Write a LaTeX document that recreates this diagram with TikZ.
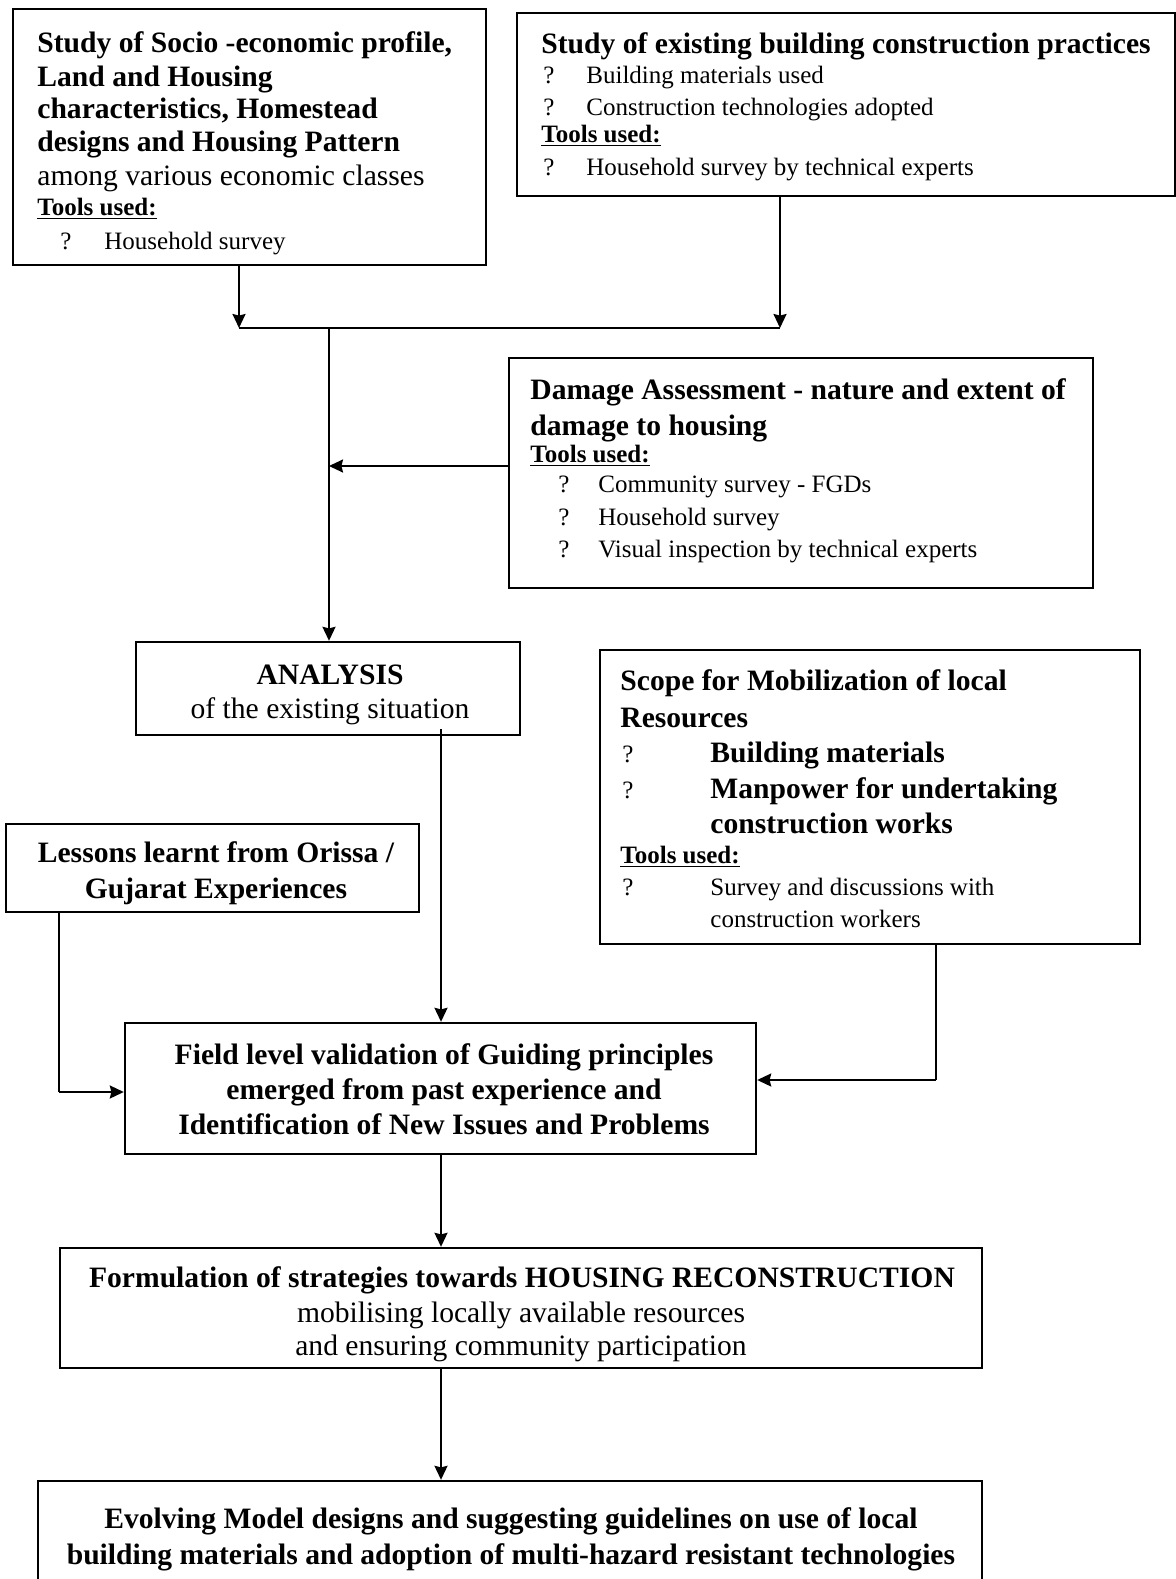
\documentclass[tikz,border=0pt]{standalone}
\usepackage{fontspec}
\setmainfont{Liberation Serif}
\usetikzlibrary{arrows.meta,fit}

\newcommand\HeadB{\fontsize{14.8}{17}\selectfont\bfseries}
\newcommand\HeadR{\fontsize{14.8}{17}\selectfont}
\newcommand\SmallR{\fontsize{12.5}{15}\selectfont}
\newcommand\SmallB{\fontsize{12.5}{15}\selectfont\bfseries}

\tikzset{
  box/.style={draw, line width=1.2pt, inner sep=0pt},
  conn/.style={line width=1pt},
  arr/.style={conn, -{Stealth[length=7pt,width=6.5pt,inset=0.8pt]}},
  txt/.style={anchor=base west, inner sep=0pt},
  ctxt/.style={anchor=base, inner sep=0pt},
  hb/.style={txt, font=\HeadB},
  hr/.style={txt, font=\HeadR},
  sr/.style={txt, font=\SmallR},
  sb/.style={txt, font=\SmallB},
  chb/.style={ctxt, font=\HeadB},
  chr/.style={ctxt, font=\HeadR},
}

\begin{document}
\begin{tikzpicture}[x=0.5pt,y=-0.5pt]
\useasboundingbox (0,0) rectangle (1176,1579);
\clip (0,0) rectangle (1176,1579);

% frames
\node[box, fit={(13,9)(486,265)}] (socio) {};
\node[box, fit={(517,13)(1175,196)}] (practice) {};
\node[box, fit={(509,358)(1093,588)}] (damage) {};
\node[box, fit={(136,642)(520,735)}] (analysis) {};
\node[box, fit={(600,650)(1140,944)}] (scope) {};
\node[box, fit={(6,824)(419,912)}] (lessons) {};
\node[box, fit={(125,1023)(756,1154)}] (field) {};
\node[box, fit={(60,1248)(982,1368)}] (strategy) {};
\node[box, fit={(38,1481)(982,1640)}] (model) {};

% socio-economic study
\node[hb] (so1) at (37,52) {Study of Socio -economic profile,};
\node[hb] (so2) at (37,86) {Land and Housing};
\node[hb] (so3) at (37,118) {characteristics, Homestead};
\node[hb] (so4) at (37,151) {designs and Housing Pattern};
\node[hr] (so5) at (37,185) {among various economic classes};
\node[sb] (so6) at (37,215) {\underline{Tools used:}};
\node[sr] (so7) at (60,249) {?};
\node[sr] (so8) at (104,249) {Household survey};

% construction practices
\node[hb] (pr1) at (541,53) {Study of existing building construction practices};
\node[sr] (pr2) at (543,83) {?};
\node[sr] (pr3) at (586,83) {Building materials used};
\node[sr] (pr4) at (543,115) {?};
\node[sr] (pr5) at (586,115) {Construction technologies adopted};
\node[sb] (pr6) at (541,142) {\underline{Tools used:}};
\node[sr] (pr7) at (543,175) {?};
\node[sr] (pr8) at (586,175) {Household survey by technical experts};

% damage assessment
\node[hb] (da1) at (530,399) {Damage Assessment - nature and extent of};
\node[hb] (da2) at (530,435) {damage to housing};
\node[sb] (da3) at (530,462) {\underline{Tools used:}};
\node[sr] (da4) at (558,492) {?};
\node[sr] (da5) at (598,492) {Community survey - FGDs};
\node[sr] (da6) at (558,525) {?};
\node[sr] (da7) at (598,525) {Household survey};
\node[sr] (da8) at (558,557) {?};
\node[sr] (da9) at (598,557) {Visual inspection by technical experts};

% analysis
\node[chb] (an1) at (330,684) {ANALYSIS};
\node[chr] (an2) at (330,718) {of the existing situation};

% local resources
\node[hb] (sc1) at (620,690) {Scope for Mobilization of local};
\node[hb] (sc2) at (620,727) {Resources};
\node[sr] (sc3) at (622,762) {?};
\node[hb] (sc4) at (710,762) {Building materials};
\node[sr] (sc5) at (622,798) {?};
\node[hb] (sc6) at (710,798) {Manpower for undertaking};
\node[hb] (sc7) at (710,833) {construction works};
\node[sb] (sc8) at (620,863) {\underline{Tools used:}};
\node[sr] (sc9) at (622,895) {?};
\node[sr] (sc10) at (710,895) {Survey and discussions with};
\node[sr] (sc11) at (710,927) {construction workers};

% lessons
\node[chb] (le1) at (216,862) {Lessons learnt from Orissa /};
\node[chb] (le2) at (216,898) {Gujarat Experiences};

% field validation
\node[chb] (fi1) at (444,1064) {Field level validation of Guiding principles};
\node[chb] (fi2) at (444,1099) {emerged from past experience and};
\node[chb] (fi3) at (444,1134) {Identification of New Issues and Problems};

% strategies
\node[chb] (st1) at (522,1287) {Formulation of strategies towards HOUSING RECONSTRUCTION};
\node[chr] (st2) at (521,1322) {mobilising locally available resources};
\node[chr] (st3) at (521,1355) {and ensuring community participation};

% model designs
\node[chb] (mo1) at (511,1528) {Evolving Model designs and suggesting guidelines on use of local};
\node[chb] (mo2) at (511,1564) {building materials and adoption of multi-hazard resistant technologies};

% connectors
\coordinate (jl) at (239,328);
\coordinate (jr) at (780,328);
\coordinate (jm) at (329,328);
\coordinate (jd) at (329,466);
\coordinate (ja) at (441,729);
\coordinate (jlb) at (59,1092);
\coordinate (jsb) at (936,1080);

\draw[arr] (socio.south -| jl) -- (jl);
\draw[arr] (practice.south -| jr) -- (jr);
\draw[conn] (jl) -- (jr);
\draw[arr] (jm) -- (analysis.north -| jm);
\draw[arr] (damage.west |- jd) -- (jd);
\draw[arr] (ja) -- (field.north -| ja);
\draw[conn] (lessons.south -| jlb) -- (jlb);
\draw[arr] (jlb) -- (field.west |- jlb);
\draw[conn] (scope.south -| jsb) -- (jsb);
\draw[arr] (jsb) -- (field.east |- jsb);
\draw[arr] (field.south -| ja) -- (strategy.north -| ja);
\draw[arr] (strategy.south -| ja) -- (model.north -| ja);
\end{tikzpicture}
\end{document}
